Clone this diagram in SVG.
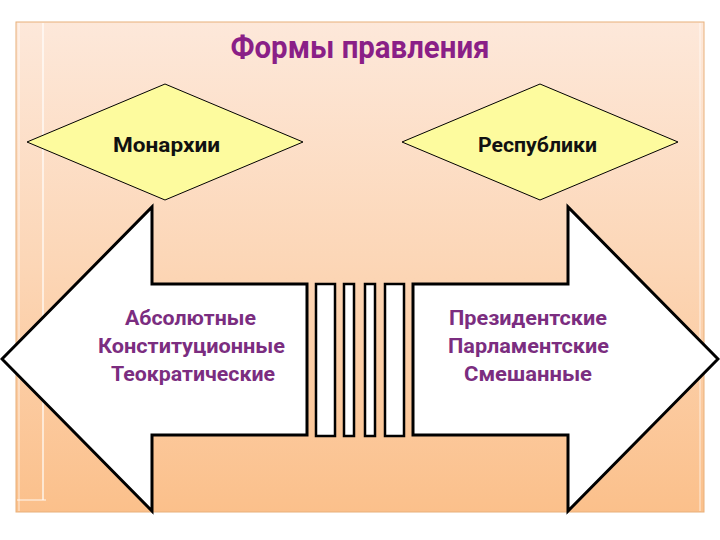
<svg xmlns="http://www.w3.org/2000/svg" width="720" height="540" viewBox="0 0 720 540">
  <defs>
    <linearGradient id="bg" x1="0" y1="0" x2="0" y2="1">
      <stop offset="0" stop-color="#FDE8DA"/>
      <stop offset="0.5" stop-color="#FCD6B6"/>
      <stop offset="1" stop-color="#FBC08B"/>
    </linearGradient>
    <style>
      .title { font-family: Roboto, "Open Sans", "DejaVu Sans", sans-serif; font-weight: bold; font-size: 32px; fill: #8A1F87; }
      .item { font-family: Roboto, "Open Sans", "DejaVu Sans", sans-serif; font-weight: bold; font-size: 20px; fill: #7B2D80; }
      .dlabel { font-family: Roboto, "Open Sans", "DejaVu Sans", sans-serif; font-weight: bold; font-size: 20px; fill: #111111; }
      .diamond { fill: #FDFB9E; stroke: #000000; stroke-width: 1; }
      .arrow { fill: #FFFFFF; stroke: #000000; stroke-width: 3; stroke-linejoin: miter; }
      .bar { fill: #FFFFFF; stroke: #000000; stroke-width: 2.5; }
    </style>
  </defs>

  <rect x="0" y="0" width="720" height="540" fill="#FFFFFF"/>
  <rect x="16" y="22" width="688" height="490" fill="url(#bg)" stroke="#E8B07A" stroke-width="1"/>
  <g id="decor" fill="none" stroke="#FFFFFF" stroke-opacity="0.6">
    <line x1="43" y1="23" x2="43" y2="500" stroke-width="2"/>
    <line x1="17" y1="500" x2="46" y2="500" stroke-width="1.5"/>
    <line x1="19" y1="23" x2="19" y2="511" stroke-width="2" stroke-opacity="0.35"/>
    <line x1="700" y1="23" x2="700" y2="511" stroke-width="2" stroke-opacity="0.35"/>
  </g>

  <g id="title">
    <text class="title" x="360" y="58" text-anchor="middle" textLength="259" lengthAdjust="spacingAndGlyphs">Формы правления</text>
  </g>

  <g id="connectors">
    <rect class="bar" x="316" y="284" width="19" height="152"/>
    <rect class="bar" x="344" y="284" width="10" height="152"/>
    <rect class="bar" x="365" y="284" width="10" height="152"/>
    <rect class="bar" x="385" y="284" width="19" height="152"/>
  </g>

  <g id="monarchy">
    <polygon class="diamond" points="165,84 303,142 165,200 27,142"/>
    <text class="dlabel" x="166.5" y="152" text-anchor="middle" textLength="107" lengthAdjust="spacingAndGlyphs">Монархии</text>
  </g>

  <g id="republic">
    <polygon class="diamond" points="540,84 678,142 540,200 402,142"/>
    <text class="dlabel" x="537.5" y="152" text-anchor="middle" textLength="119" lengthAdjust="spacingAndGlyphs">Республики</text>
  </g>

  <g id="monarchy-types">
    <polygon class="arrow" points="2,359 152,207 152,284 307,284 307,435 152,435 152,511"/>
    <text class="item" x="190.5" y="325" text-anchor="middle" textLength="131" lengthAdjust="spacingAndGlyphs">Абсолютные</text>
    <text class="item" x="191.5" y="353" text-anchor="middle" textLength="187" lengthAdjust="spacingAndGlyphs">Конституционные</text>
    <text class="item" x="193" y="381" text-anchor="middle" textLength="164" lengthAdjust="spacingAndGlyphs">Теократические</text>
  </g>

  <g id="republic-types">
    <polygon class="arrow" points="718,359 568,207 568,284 413,284 413,435 568,435 568,511"/>
    <text class="item" x="528" y="325" text-anchor="middle" textLength="158" lengthAdjust="spacingAndGlyphs">Президентские</text>
    <text class="item" x="528.5" y="353" text-anchor="middle" textLength="161" lengthAdjust="spacingAndGlyphs">Парламентские</text>
    <text class="item" x="528" y="381" text-anchor="middle" textLength="128" lengthAdjust="spacingAndGlyphs">Смешанные</text>
  </g>
</svg>
